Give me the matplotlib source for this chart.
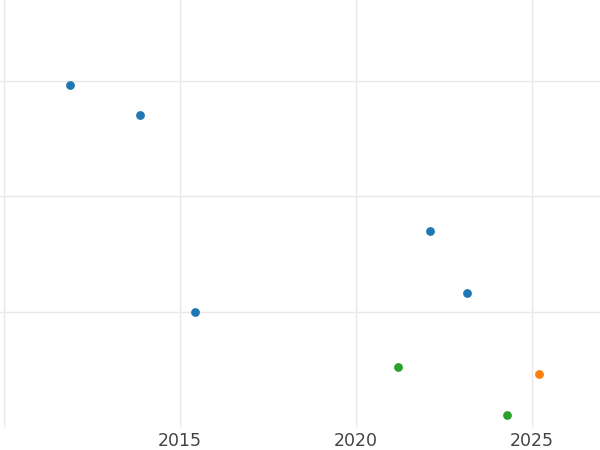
import matplotlib
matplotlib.use("Agg")
import matplotlib.pyplot as plt

# data (year, value, group)
blue_x = [2011.87, 2013.86, 2015.43, 2022.10, 2023.15]
blue_y = [2.965, 2.706, 1.00, 1.697, 1.165]
green_x = [2021.19, 2024.29]
green_y = [0.524, 0.108]
orange_x = [2025.20]
orange_y = [0.463]

x_ticks = [2010, 2015, 2020, 2025]
x_labels = ["", "2015", "2020", "2025"]
y_ticks = [1, 2, 3]

fig = plt.figure(figsize=(6, 4.5), dpi=100)
ax = fig.add_axes([0, 1 - 427 / 450, 1, 427 / 450])

ax.scatter(blue_x, blue_y, s=40, color="#1f77b4", zorder=3, linewidths=0)
ax.scatter(green_x, green_y, s=40, color="#2ca02c", zorder=3, linewidths=0)
ax.scatter(orange_x, orange_y, s=40, color="#ff7f0e", zorder=3, linewidths=0)

ax.set_xlim(2009.886, 2026.93)
ax.set_ylim(0.0, 3.70)
ax.set_xticks(x_ticks)
ax.set_xticklabels(x_labels)
ax.set_yticks(y_ticks)
ax.set_yticklabels([])
ax.grid(True, color="#e8e8e8", linewidth=1)
ax.set_axisbelow(True)
for s in ax.spines.values():
    s.set_visible(False)
ax.tick_params(length=0, labelsize=12.5, labelcolor="#444444", pad=3.5)

fig.savefig("out.png", dpi=100)
